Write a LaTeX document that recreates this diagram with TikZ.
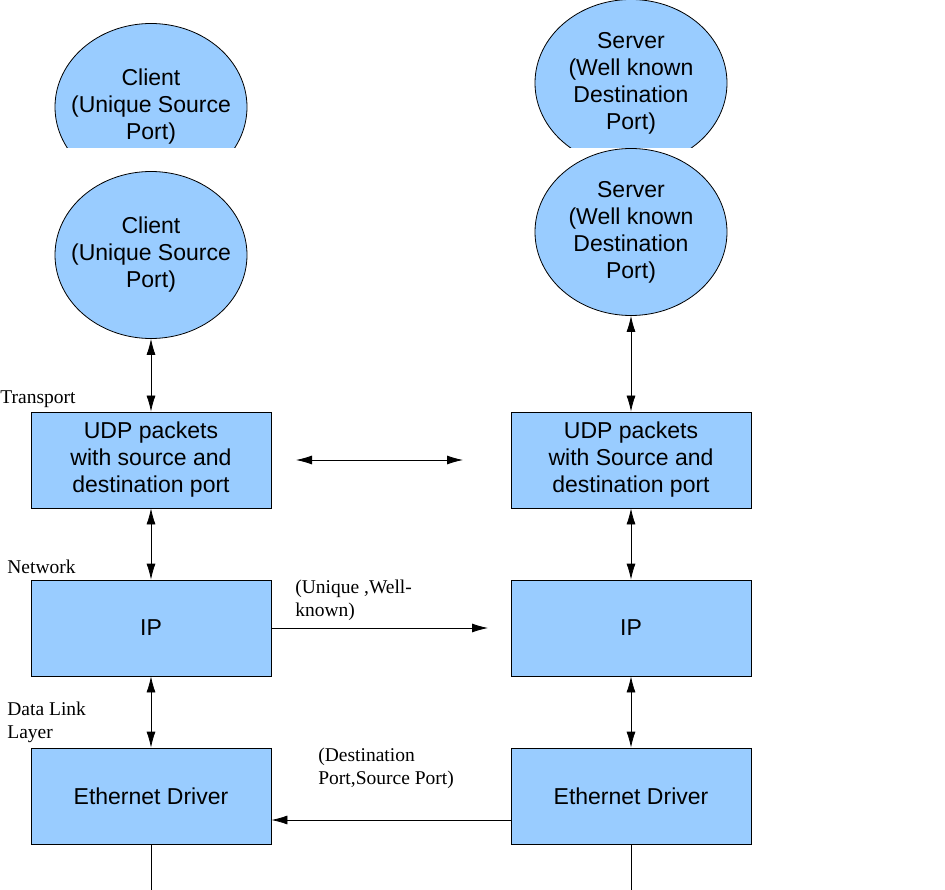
\documentclass[tikz,border=0pt]{standalone}
\usepackage{fontspec}
\setmainfont{Liberation Serif}
\setsansfont{Liberation Sans}
\usepackage{xcolor}
\usetikzlibrary{arrows.meta,shapes.geometric}
\definecolor{boxblue}{HTML}{99CCFF}

\begin{document}
\begin{tikzpicture}[x=1pt,y=-1pt,>={Latex[length=16pt,width=9pt]},line width=0.8pt,
   blk/.style={rectangle,draw,fill=boxblue,minimum width=240pt,minimum height=96pt,
     inner sep=0pt,align=center,font=\sffamily\fontsize{23}{27}\selectfont},
   port/.style={ellipse,draw,fill=boxblue,minimum width=192pt,minimum height=167pt,
     inner xsep=-18pt,inner ysep=0pt,align=center,font=\sffamily\fontsize{23}{27}\selectfont},
   lyr/.style={inner sep=0pt,anchor=west,align=left,font=\fontsize{19.5}{23}\selectfont}]
  \useasboundingbox (0,0) rectangle (945,890);
  % upper copies, cut off at the band
  \begin{scope}
    \clip (0,0) rectangle (945,148);
    \node[port] (cliA) at (151,107) {Client\\(Unique Source\\Port)};
    \node[port] (srvA) at (631,83) {Server\\(Well known\\Destination\\Port)};
  \end{scope}
  \node[port] (cli) at (151,255) {Client\\(Unique Source\\Port)};
  \node[port] (srv) at (631,232) {Server\\(Well known\\Destination\\Port)};
  \node[blk] (udpC) at (151,460) {UDP packets\\with source and\\destination port};
  \node[blk] (udpS) at (631,460) {UDP packets\\with Source and\\destination port};
  \node[blk] (ipC) at (151,628) {IP};
  \node[blk] (ipS) at (631,628) {IP};
  \node[blk] (ethC) at (151,796) {Ethernet Driver};
  \node[blk] (ethS) at (631,796) {Ethernet Driver};
  \node[lyr] (lbltrans) at (0,399) {Transport};
  \node[lyr] (lblnet) at (7,567) {Network};
  \node[lyr] (lbllink) at (7,722) {Data Link\\Layer};
  \node[lyr] (lblip) at (295,600) {(Unique ,Well-\\known)};
  \node[lyr] (lbleth) at (318,768) {(Destination\\Port,Source Port)};
  \coordinate (udpl) at (296,460);
  \coordinate (udpr) at (463,460);
  \coordinate (ipend) at (488,628);
  \coordinate (wireC) at (151,890);
  \coordinate (wireS) at (631,890);
  \draw[<->] (cli)--(udpC);
  \draw[<->] (udpC)--(ipC);
  \draw[<->] (ipC)--(ethC);
  \draw (ethC)--(wireC);
  \draw[<->] (srv)--(udpS);
  \draw[<->] (udpS)--(ipS);
  \draw[<->] (ipS)--(ethS);
  \draw (ethS)--(wireS);
  \draw[<->] (udpl)--(udpr);
  \draw[->] (ipC.east)--(ipend);
  \draw[->] ([yshift=-24pt]ethS.west)--([yshift=-24pt]ethC.east);
\end{tikzpicture}
\end{document}
